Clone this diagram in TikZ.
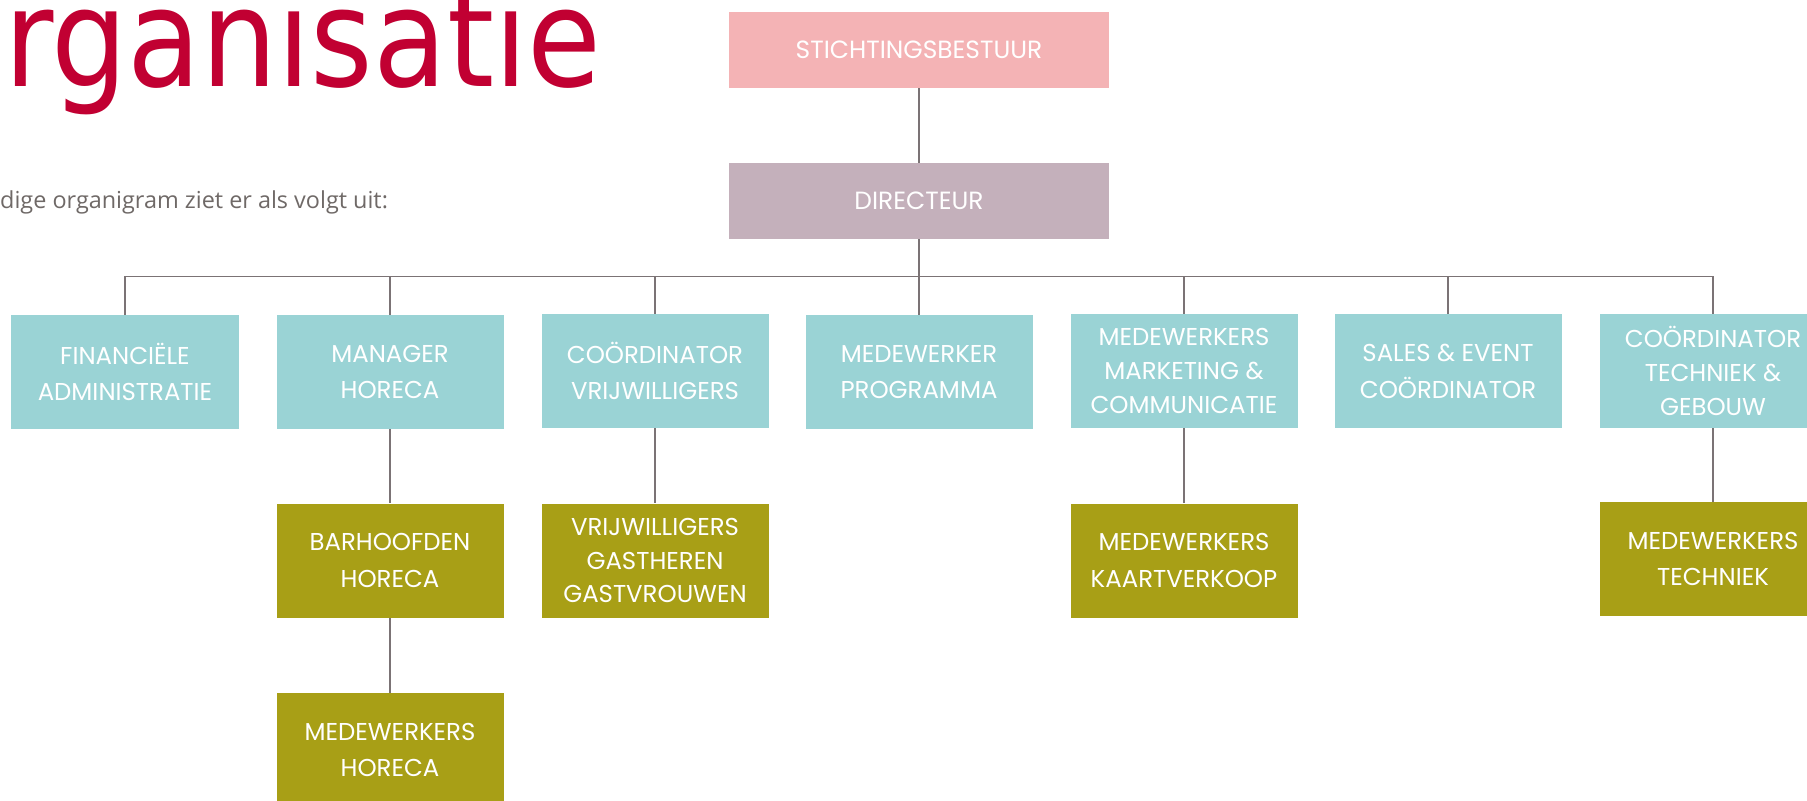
\documentclass[tikz,border=0pt]{standalone}
\usepackage{fontspec}
\setmainfont{Poppins}
\newfontfamily\titlefont{DejaVu Sans}
\newfontfamily\subfont{Open Sans}
\definecolor{pinkbox}{HTML}{F4B3B5}
\definecolor{mauvebox}{HTML}{C4B0BB}
\definecolor{tealbox}{HTML}{9AD3D5}
\definecolor{olivebox}{HTML}{A89F16}
\definecolor{linegray}{HTML}{7B7375}
\definecolor{titlered}{HTML}{C10032}
\definecolor{subgray}{HTML}{6F6967}
\tikzset{
  box/.style={rectangle, inner sep=0pt, align=center, text=white,
    minimum width=227bp, minimum height=114bp,
    font=\fontsize{24.5}{37}\selectfont},
  threeline/.style={font=\fontsize{24.5}{34}\selectfont},
  topbox/.style={rectangle, inner sep=0pt, align=center, text=white,
    minimum width=380bp, minimum height=76bp,
    font=\fontsize{25}{30}\selectfont},
  tealnode/.style={box, fill=tealbox},
  olivenode/.style={box, fill=olivebox},
  conn/.style={draw=linegray, line width=1.6bp}
}
\begin{document}
\begin{tikzpicture}[x=1bp,y=-1bp]
\useasboundingbox (0,0) rectangle (1807,801);
\fill[white] (0,0) rectangle (1807,801);
\clip (0,0) rectangle (1807,801);

% title and intro
\node[anchor=base west, inner sep=0pt, text=titlered] (title) at (4,87)
  {\titlefont\fontsize{137}{140}\selectfont\scalebox{0.88}[1]{rganisatie}};
\node[anchor=base west, inner sep=0pt, text=subgray] (intro) at (0,208)
  {\subfont\fontsize{23.5}{28}\selectfont dige organigram ziet er als volgt uit:};

% top boxes
\node[topbox, fill=pinkbox] (stichting) at (919,50) {STICHTINGSBESTUUR};
\node[topbox, fill=mauvebox] (directeur) at (919,201) {DIRECTEUR};

% row 1
\node[tealnode] (fin) at (125,372) {FINANCIËLE\\ADMINISTRATIE};
\node[tealnode] (manager) at (390,372) {MANAGER\\HORECA};
\node[tealnode] (coordvrij) at (655,371) {COÖRDINATOR\\VRIJWILLIGERS};
\node[tealnode] (prog) at (919,372) {MEDEWERKER\\PROGRAMMA};
\node[tealnode, threeline] (marketing) at (1184,371) {MEDEWERKERS\\MARKETING \&\\COMMUNICATIE};
\node[tealnode] (sales) at (1448,371) {SALES \& EVENT\\COÖRDINATOR};
\node[tealnode, threeline] (techniek) at (1713,371) {COÖRDINATOR\\TECHNIEK \&\\GEBOUW};

% row 2
\node[olivenode] (barhoofden) at (390,560.5) {BARHOOFDEN\\HORECA};
\node[olivenode, threeline] (vrijwilligers) at (655,560.5) {VRIJWILLIGERS\\GASTHEREN\\GASTVROUWEN};
\node[olivenode] (kaart) at (1184,560.5) {MEDEWERKERS\\KAARTVERKOOP};
\node[olivenode] (medtech) at (1713,559) {MEDEWERKERS\\TECHNIEK};

% row 3
\node[olivenode] (medhoreca) at (390,750) {MEDEWERKERS\\HORECA};

% connectors
\coordinate (bus) at (919,276.5);
\draw[conn] (stichting.south) -- (directeur.north);
\draw[conn] (directeur.south) -- (bus);
\foreach \n in {fin,manager,coordvrij,prog,marketing,sales,techniek}
  \draw[conn] (bus) -| (\n.north);
\draw[conn] (manager.south) -- (barhoofden.north);
\draw[conn] (barhoofden.south) -- (medhoreca.north);
\draw[conn] (coordvrij.south) -- (vrijwilligers.north);
\draw[conn] (marketing.south) -- (kaart.north);
\draw[conn] (techniek.south) -- (medtech.north);
\end{tikzpicture}
\end{document}
